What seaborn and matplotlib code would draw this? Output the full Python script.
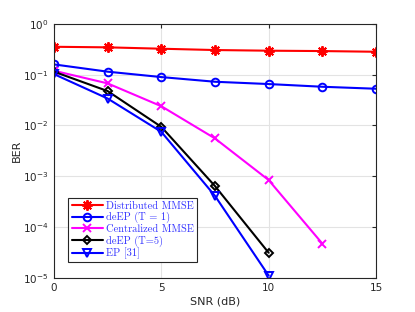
import numpy as np
import pandas as pd
import seaborn as sns
import matplotlib.pyplot as plt

# values
snr = [0, 2.5, 5, 7.5, 10, 12.5, 15]
dist_mmse = [0.356, 0.347, 0.326, 0.307, 0.298, 0.293, 0.284]
deep_t1 = [0.160, 0.115, 0.090, 0.0728, 0.0656, 0.058, 0.053]
cent_mmse = [0.120, 0.0676, 0.024, 0.00556, 8.4e-4, 4.7e-5]
deep_t5 = [0.115, 0.0477, 0.0094, 6.4e-4, 3.1e-5]
ep = [0.103, 0.034, 0.0075, 4.1e-4, 1.1e-5]

labels = ['Distributed MMSE', 'deEP (T = 1)', 'Centralized MMSE', 'deEP (T=5)', 'EP [31]']
series = [dist_mmse, deep_t1, cent_mmse, deep_t5, ep]
colors = ['#ff0000', '#0000ff', '#ff00ff', '#000000', '#0000ff']
markers = [(8, 2, 0), 'o', 'x', 'D', 'v']
msizes = [7.5, 5.5, 6, 4.2, 6]

sns.set_style('whitegrid')

fig = plt.figure(figsize=(4.15, 3.12), dpi=100)
ax = fig.add_axes([0.130, 0.110, 0.776, 0.813])

for lab, vals, c, m, ms in zip(labels, series, colors, markers, msizes):
    df = pd.DataFrame({'snr': snr[:len(vals)], 'ber': vals})
    sns.lineplot(data=df, x='snr', y='ber', ax=ax, color=c, lw=1.5,
                 marker=m, markersize=ms, markerfacecolor='none',
                 markeredgecolor=c, markeredgewidth=1.4, label=lab)

ax.set_yscale('log')
ax.set_xlim(0, 15)
ax.set_ylim(1e-5, 1)
ax.set_xticks([0, 5, 10, 15])
ax.set_yticks([1e-5, 1e-4, 1e-3, 1e-2, 1e-1, 1])
ax.minorticks_off()
ax.grid(True, color='#e3e3e3', lw=0.8)
ax.tick_params(direction='in', labelsize=7.5, colors='#262626', length=3,
               top=True, right=True, pad=4)
ax.tick_params(axis='x', labelbottom=True, labeltop=False)
ax.tick_params(axis='y', labelleft=True, labelright=False)
for s in ax.spines.values():
    s.set_color('#262626')
    s.set_linewidth(0.8)
ax.set_xlabel('SNR (dB)', fontsize=8, color='#262626', labelpad=2)
ax.set_ylabel('BER', fontsize=8, color='#262626', labelpad=1)

leg = ax.legend(loc='lower left', bbox_to_anchor=(0.045, 0.06),
                prop={'family': 'cmr10', 'size': 7.5},
                frameon=True, fancybox=False, framealpha=1, edgecolor='#262626',
                handlelength=3.0, handletextpad=0.3, labelspacing=0.12,
                borderpad=0.3, borderaxespad=0)
leg.get_frame().set_linewidth(0.8)
for t in leg.get_texts():
    t.set_color('#3333ff')

fig.savefig('out.png', dpi=100)
